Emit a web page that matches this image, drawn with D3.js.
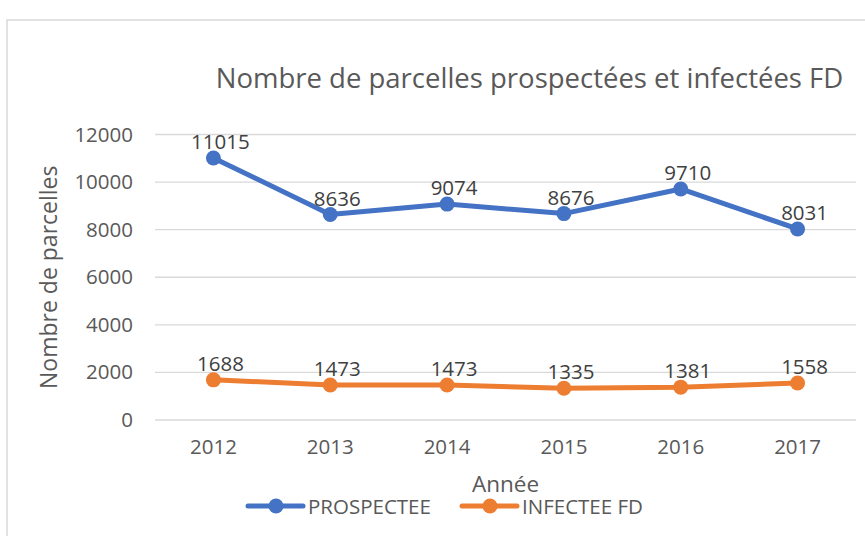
<!DOCTYPE html>
<html><head><meta charset="utf-8">
<script src="https://cdn.jsdelivr.net/npm/d3@7/dist/d3.min.js"></script>
<style>body{margin:0;background:#fff;}svg{display:block;}</style>
</head><body>
<svg id="c" width="865" height="536"></svg>
<script>
const years = ["2012","2013","2014","2015","2016","2017"];
const prospectee = [11015, 8636, 9074, 8676, 9710, 8031];
const infectee = [1688, 1473, 1473, 1335, 1381, 1558];
const yTicks = [0, 2000, 4000, 6000, 8000, 10000, 12000];
const seriesNames = ["PROSPECTEE", "INFECTEE FD"];
const colors = ["#4472C4", "#ED7D31"];

const svg = d3.select("#c");
const font = "'Open Sans', sans-serif";
const L = 155, R = 856, T = 134.5, B = 420;

// chart frame
svg.append("rect").attr("x", 7).attr("y", 20).attr("width", 900).attr("height", 600)
  .attr("fill", "#fff").attr("stroke", "#D9D9D9").attr("stroke-width", 1.5);

const x = d3.scaleBand().domain(years).range([L, R]);
const y = d3.scaleLinear().domain([0, 12000]).range([B, T]);

// gridlines
svg.append("g").selectAll("line").data(yTicks).join("line")
  .attr("x1", L).attr("x2", R).attr("y1", d => y(d)).attr("y2", d => y(d))
  .attr("stroke", "#D9D9D9").attr("stroke-width", 1.3);

// y axis
const yAxis = svg.append("g").attr("transform", `translate(${L},0)`)
  .call(d3.axisLeft(y).tickValues(yTicks).tickSize(0).tickPadding(22).tickFormat(d3.format("d")));
yAxis.select(".domain").remove();
yAxis.selectAll("text").attr("font-family", font).attr("font-size", 20.5).attr("fill", "#595959");

// x axis
const xAxis = svg.append("g").attr("transform", `translate(0,${B})`)
  .call(d3.axisBottom(x).tickSize(0).tickPadding(19));
xAxis.select(".domain").remove();
xAxis.selectAll("text").attr("font-family", font).attr("font-size", 20.5).attr("fill", "#595959");

// series
const cx = d => x(d) + x.bandwidth() / 2;
[prospectee, infectee].forEach((vals, i) => {
  const data = years.map((yr, j) => ({yr, v: vals[j]}));
  svg.append("path").datum(data)
    .attr("fill", "none").attr("stroke", colors[i]).attr("stroke-width", 5)
    .attr("stroke-linejoin", "round").attr("stroke-linecap", "round")
    .attr("d", d3.line().x(d => cx(d.yr)).y(d => y(d.v)));
  svg.append("g").selectAll("circle").data(data).join("circle")
    .attr("cx", d => cx(d.yr)).attr("cy", d => y(d.v)).attr("r", 7.5).attr("fill", colors[i]);
  svg.append("g").selectAll("text").data(data).join("text")
    .attr("x", d => cx(d.yr) + 7).attr("y", d => y(d.v) - 9)
    .attr("text-anchor", "middle").attr("font-family", font).attr("font-size", 20.5)
    .attr("fill", "#404040").text(d => d.v);
});

// title
svg.append("text").attr("x", 529.5).attr("y", 88).attr("text-anchor", "middle")
  .attr("font-family", font).attr("font-size", 27.5).attr("fill", "#595959")
  .text("Nombre de parcelles prospectées et infectées FD");

// axis titles
svg.append("text").attr("transform", `translate(57,${(T + B) / 2}) rotate(-90)`)
  .attr("text-anchor", "middle").attr("font-family", font).attr("font-size", 23).attr("fill", "#595959")
  .text("Nombre de parcelles");
svg.append("text").attr("x", (L + R) / 2).attr("y", 492).attr("text-anchor", "middle")
  .attr("font-family", font).attr("font-size", 22.5).attr("fill", "#595959").text("Année");

// legend
const legX = [248, 462];
seriesNames.forEach((name, i) => {
  const g = svg.append("g").attr("transform", `translate(${legX[i]},506)`);
  g.append("line").attr("x1", 0).attr("x2", 55).attr("y1", 0).attr("y2", 0)
    .attr("stroke", colors[i]).attr("stroke-width", 5).attr("stroke-linecap", "round");
  g.append("circle").attr("cx", 28).attr("cy", 0).attr("r", 7.5).attr("fill", colors[i]);
  g.append("text").attr("x", 60).attr("y", 7.5).attr("font-family", font).attr("font-size", 20.5)
    .attr("fill", "#595959").text(name);
});
</script>
</body></html>
